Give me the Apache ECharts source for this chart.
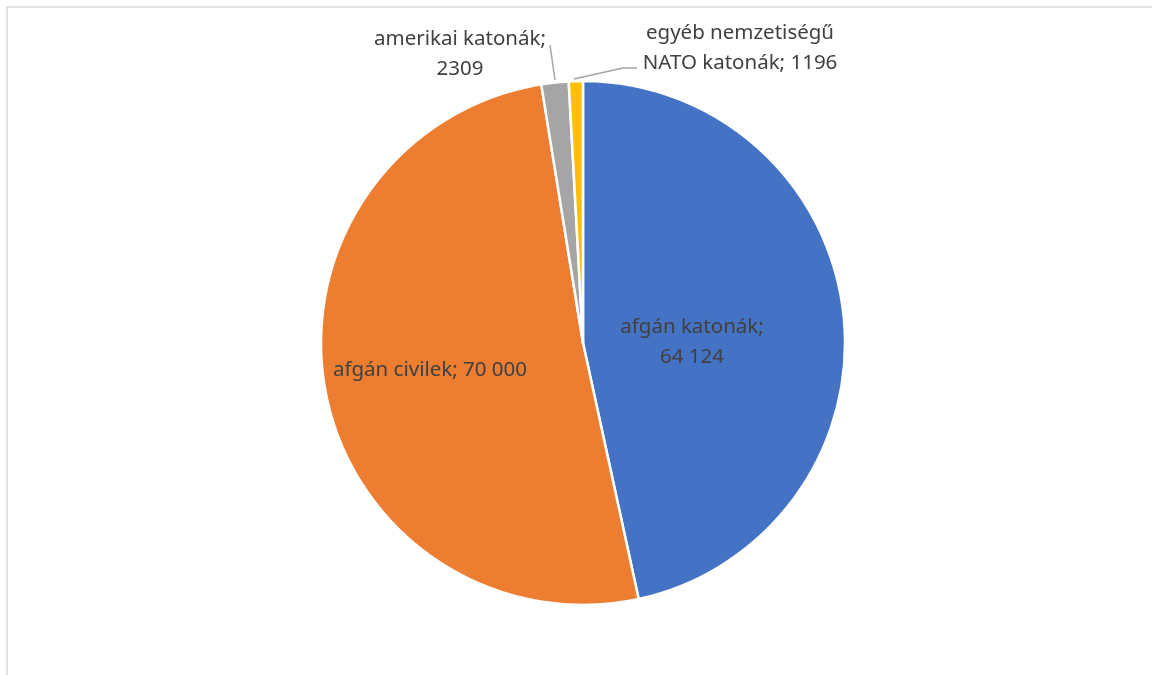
<!DOCTYPE html>
<html>
<head>
<meta charset="utf-8">
<style>
html,body{margin:0;padding:0;background:#fff;}
#chart{width:1152px;height:675px;}
</style>
<script src="https://cdn.jsdelivr.net/npm/echarts@6/dist/echarts.min.js"></script>
</head>
<body>
<div id="chart"></div>
<script>
const categories = ['afgán katonák', 'afgán civilek', 'amerikai katonák', 'egyéb nemzetiségű\nNATO katonák'];
const values = [64124, 70000, 2309, 1196];
const valueLabels = ['64 124', '70 000', '2309', '1196'];
const colors = ['#4472C4', '#ED7D31', '#A5A5A5', '#FFC000'];

const labelText = [
  categories[0] + ';\n' + valueLabels[0],
  categories[1] + '; ' + valueLabels[1],
  categories[2] + ';\n' + valueLabels[2],
  categories[3] + '; ' + valueLabels[3]
];
const labelPos = [[692, 342], [430, 370], [460, 54], [740, 48]];
const linePts = [null, null,
  [[555, 80], [550, 45]],
  [[574, 79], [623, 68], [637, 68]]
];

const chart = echarts.init(document.getElementById('chart'));
chart.setOption({
  animation: false,
  backgroundColor: '#ffffff',
  graphic: [{
    type: 'rect',
    shape: {x: 7, y: 7, width: 1300, height: 800},
    style: {fill: 'none', stroke: '#d9d9d9', lineWidth: 1.5},
    silent: true
  }],
  series: [{
    type: 'pie',
    center: [583, 343],
    radius: 262,
    startAngle: 90,
    clockwise: true,
    avoidLabelOverlap: false,
    itemStyle: {borderColor: '#ffffff', borderWidth: 2.5},
    label: {
      show: true,
      color: '#404040',
      fontFamily: 'Noto Sans',
      fontSize: 20.5,
      lineHeight: 30,
      align: 'center',
      formatter: p => labelText[p.dataIndex]
    },
    labelLine: {show: true, lineStyle: {color: '#A5A5A5', width: 1.5}, length: 10, length2: 10},
    labelLayout: function (params) {
      const i = params.dataIndex;
      const res = {x: labelPos[i][0], y: labelPos[i][1], align: 'center', verticalAlign: 'middle'};
      if (linePts[i]) res.labelLinePoints = linePts[i];
      return res;
    },
    data: values.map((v, i) => ({
      name: categories[i],
      value: v,
      itemStyle: {color: colors[i]},
      label: {position: i < 2 ? 'inside' : 'outside'},
      labelLine: {show: i >= 2}
    }))
  }]
});
</script>
</body>
</html>
